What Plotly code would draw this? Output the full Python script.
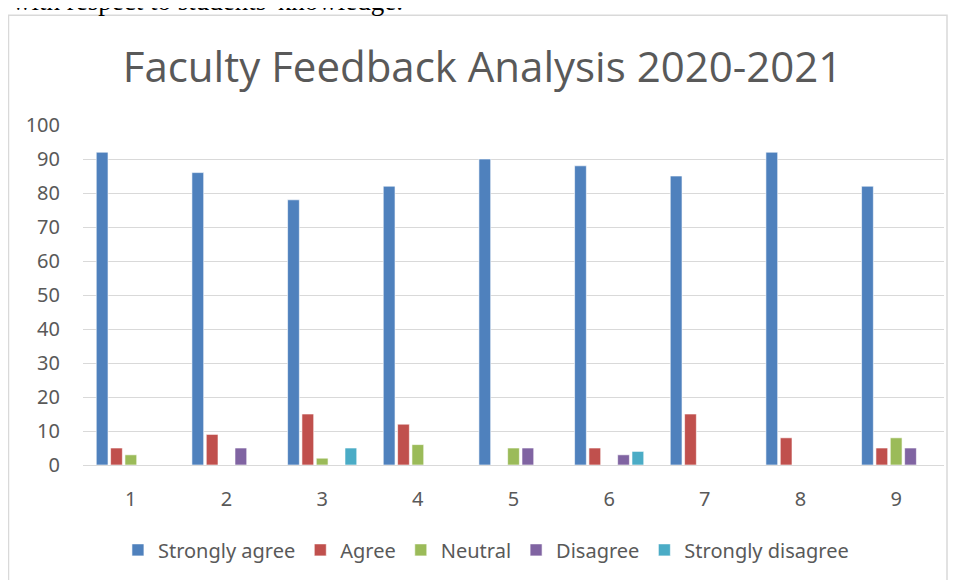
import plotly.graph_objects as go

categories = ["1", "2", "3", "4", "5", "6", "7", "8", "9"]
strongly_agree = [92, 86, 78, 82, 90, 88, 85, 92, 82]
agree = [5, 9, 15, 12, 0, 5, 15, 8, 5]
neutral = [3, 0, 2, 6, 5, 0, 0, 0, 8]
disagree = [0, 5, 0, 0, 5, 3, 0, 0, 5]
strongly_disagree = [0, 0, 5, 0, 0, 4, 0, 0, 0]
series_names = ["Strongly agree", "Agree", "Neutral", "Disagree", "Strongly disagree"]
colors = ["#4F81BD", "#C0504D", "#9BBB59", "#8064A2", "#4BACC6"]
y_ticks = [0, 10, 20, 30, 40, 50, 60, 70, 80, 90, 100]

# page body has an 8px margin, so the figure is offset by (8, 8)
W, H = 949, 572
ml, mr, mt, mb = 75, 13, 117, 114
pw, ph = W - ml - mr, H - mt - mb

fig = go.Figure()
for name, vals, col in zip(series_names,
                           [strongly_agree, agree, neutral, disagree, strongly_disagree],
                           colors):
    fig.add_trace(go.Bar(x=categories, y=vals, name=name,
                         marker=dict(color=col, line=dict(color="rgba(255,255,255,0.6)", width=1))))

tick_font = dict(family="Noto Sans, Open Sans, sans-serif", size=20, color="#595959")

fig.update_layout(
    width=W, height=H,
    margin=dict(l=ml, r=mr, t=mt, b=mb),
    paper_bgcolor="white", plot_bgcolor="white",
    barmode="group", bargap=0.25, bargroupgap=0.18,
    showlegend=True,
    legend=dict(orientation="h", x=0.468, xanchor="center", y=-0.246, yanchor="middle",
                font=tick_font, itemwidth=30, tracegroupgap=0),
    title=dict(text="Faculty Feedback Analysis 2020-2021", x=0.5, xanchor="center",
               y=1 - 59 / H, yanchor="middle",
               font=dict(family="Open Sans, sans-serif", size=42, color="#595959")),
    xaxis=dict(type="category", showgrid=False, showline=False, ticks="",
               tickfont=tick_font, ticklabelstandoff=20),
    yaxis=dict(range=[0, 100], tickvals=y_ticks, showgrid=True, gridcolor="#D9D9D9",
               gridwidth=1, zeroline=True, zerolinecolor="#D9D9D9", zerolinewidth=1,
               showline=False, ticks="", tickfont=tick_font, ticklabelstandoff=22),
    shapes=[dict(type="rect", xref="paper", yref="paper",
                 x0=(0.5 - ml) / pw, x1=(939 - ml) / pw,
                 y0=(H - mb - 600) / ph, y1=(H - mb - 7) / ph,
                 line=dict(color="#D9D9D9", width=1.5), fillcolor="rgba(0,0,0,0)", layer="below")],
    annotations=[dict(text="with respect to students' knowledge.", xref="paper", yref="paper",
                      x=(2 - ml) / pw, y=(H - mb + 7) / ph, xanchor="left", yanchor="middle",
                      showarrow=False,
                      font=dict(family="Liberation Serif, serif", size=27, color="black"))],
)

fig.write_html("out.html")
